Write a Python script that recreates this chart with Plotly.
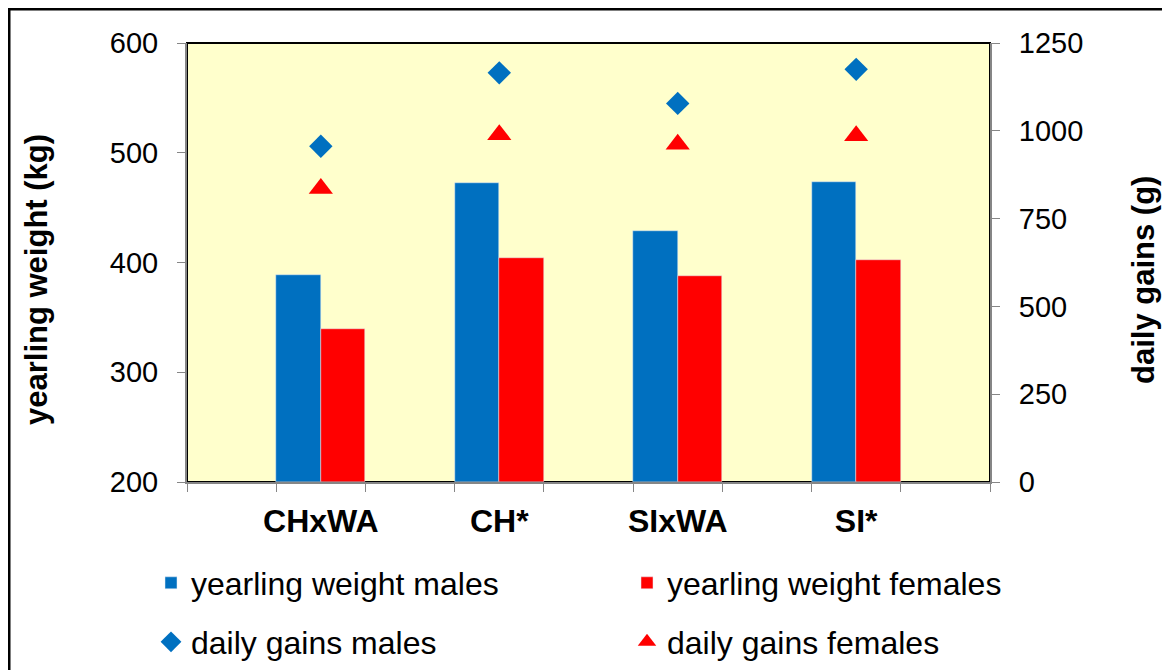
import plotly.graph_objects as go

groups = ["CHxWA", "CH*", "SIxWA", "SI*"]
yw_males = [388.5, 472, 429, 473]
yw_females = [339.5, 404.5, 387.5, 402]
dg_males = [956, 1165, 1078, 1175]
dg_females = [836, 989, 962, 986]

# category axis with empty spacer categories between groups (as in the original sheet)
cats = [" "]
for i, g in enumerate(groups):
    cats.append(g)
    cats.append(" " * (i + 2))

def spread(vals):
    out = [None]
    for v in vals:
        out += [v, None]
    return out

BASE = 200
BLUE = "#0070C0"
RED = "#FF0000"
AX = "#868686"
FONT = "Arial, Liberation Sans, sans-serif"

fig = go.Figure()
fig.add_trace(go.Bar(x=cats, y=[None if v is None else v - BASE for v in spread(yw_males)],
                     base=BASE, name="yearling weight males", showlegend=True,
                     marker=dict(color=BLUE), legend="legend"))
fig.add_trace(go.Bar(x=cats, y=[None if v is None else v - BASE for v in spread(yw_females)],
                     base=BASE, name="yearling weight females", showlegend=True,
                     marker=dict(color=RED), legend="legend2"))
fig.add_trace(go.Scatter(x=cats, y=spread(dg_males), yaxis="y2", mode="markers",
                         name="daily gains males", legend="legend3", showlegend=True,
                         marker=dict(symbol="diamond", size=18, color=BLUE)))
fig.add_trace(go.Scatter(x=cats, y=spread(dg_females), yaxis="y2", mode="markers",
                         name="daily gains females", legend="legend4", showlegend=True,
                         marker=dict(symbol="triangle-up", size=21, color=RED)))

# page body has an 8px margin: figure coords = screen coords - 8
OFF = 8
W, H = 1162, 662
L, R, T, B = 179, 180, 35, 188
pw, ph = W - L - R, H - T - B

def px(sx):
    return (sx - OFF - L) / pw

def py(sy):
    return (H - B - (sy - OFF)) / ph

def leg(sx, sy):
    return dict(x=px(sx), y=py(sy), xanchor="left", yanchor="middle",
                font=dict(size=32), bgcolor="rgba(0,0,0,0)")

fig.update_layout(
    width=W, height=H,
    showlegend=True,
    margin=dict(l=L, r=R, t=T, b=B, autoexpand=False),
    paper_bgcolor="white",
    plot_bgcolor="#FFFFCC",
    barmode="group", bargap=0, bargroupgap=0,
    font=dict(family=FONT, color="black", size=29),
    xaxis=dict(type="category", categoryorder="array", categoryarray=cats,
               tickson="boundaries", ticks="outside", ticklen=8, tickcolor=AX,
               showline=True, linecolor=AX, linewidth=2, showgrid=False,
               tickangle=0, ticklabelstandoff=10,
               tickfont=dict(size=32, family=FONT, weight="bold"),
               range=[-0.5, len(cats) - 0.5]),
    yaxis=dict(range=[200, 600], dtick=100, ticks="outside", ticklen=8, tickcolor=AX,
               showline=True, linecolor=AX, linewidth=2, showgrid=False,
               zeroline=False, tickfont=dict(size=29), ticklabelstandoff=13),
    yaxis2=dict(range=[0, 1250], dtick=250, overlaying="y", side="right",
                ticks="outside", ticklen=8, tickcolor=AX,
                showline=True, linecolor=AX, linewidth=2, showgrid=False,
                zeroline=False, tickfont=dict(size=29), ticklabelstandoff=13),
    legend=leg(151, 583),
    legend2=leg(627, 583),
    legend3=leg(151, 642),
    legend4=leg(627, 642),
    annotations=[
        dict(text="<b>yearling weight (kg)</b>", xref="paper", yref="paper",
             x=px(36), y=py(280), textangle=-90, showarrow=False,
             xanchor="center", yanchor="middle", font=dict(size=31)),
        dict(text="<b>daily gains (g)</b>", xref="paper", yref="paper",
             x=px(1143), y=py(280), textangle=-90, showarrow=False,
             xanchor="center", yanchor="middle", font=dict(size=31)),
    ],
    shapes=[
        dict(type="rect", xref="paper", yref="paper", x0=0, x1=1, y0=0, y1=1,
             line=dict(color="black", width=2), layer="below"),
        # outer chart frame: only its top and left edges fall inside the picture
        dict(type="rect", xref="paper", yref="paper", x0=px(9), x1=px(1190),
             y0=py(9), y1=py(700), line=dict(color="black", width=3), layer="below"),
    ],
)

fig.write_html("out.html")
